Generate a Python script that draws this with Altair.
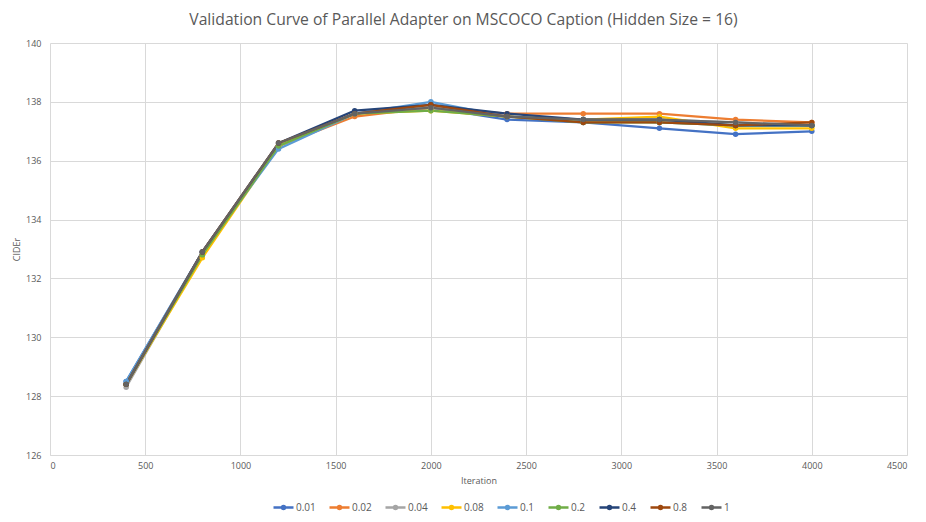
import altair as alt
import pandas as pd

iterations = [400, 800, 1200, 1600, 2000, 2400, 2800, 3200, 3600, 4000]
series_names = ["0.01", "0.02", "0.04", "0.08", "0.1", "0.2", "0.4", "0.8", "1"]
colors = ["#4472C4", "#ED7D31", "#A5A5A5", "#FFC000", "#5B9BD5", "#70AD47", "#264478", "#9E480E", "#636363"]

v_001 = [128.5, 132.9, 136.5, 137.6, 137.8, 137.4, 137.3, 137.1, 136.9, 137.0]
v_002 = [128.4, 132.8, 136.5, 137.5, 137.8, 137.6, 137.6, 137.6, 137.4, 137.3]
v_004 = [128.3, 132.8, 136.5, 137.6, 137.8, 137.5, 137.4, 137.4, 137.3, 137.2]
v_008 = [128.4, 132.7, 136.5, 137.6, 137.7, 137.5, 137.4, 137.5, 137.1, 137.1]
v_01 = [128.5, 132.9, 136.4, 137.6, 138.0, 137.5, 137.4, 137.3, 137.2, 137.2]
v_02 = [128.4, 132.8, 136.5, 137.6, 137.7, 137.5, 137.3, 137.3, 137.2, 137.2]
v_04 = [128.4, 132.9, 136.6, 137.7, 137.9, 137.6, 137.4, 137.4, 137.2, 137.2]
v_08 = [128.4, 132.9, 136.6, 137.6, 137.9, 137.5, 137.3, 137.3, 137.2, 137.3]
v_1 = [128.4, 132.9, 136.6, 137.6, 137.8, 137.5, 137.4, 137.4, 137.3, 137.2]

all_values = [v_001, v_002, v_004, v_008, v_01, v_02, v_04, v_08, v_1]

rows = []
for i, (name, vals) in enumerate(zip(series_names, all_values)):
    for it, v in zip(iterations, vals):
        rows.append({"Iteration": it, "CIDEr": v, "series": name, "order": i})
df = pd.DataFrame(rows)

legend_symbol = "M-1,0H1M0.15,0A0.15,0.15,0,1,1,-0.15,0A0.15,0.15,0,1,1,0.15,0Z"

color_enc = alt.Color(
    "series:N",
    scale=alt.Scale(domain=series_names, range=colors),
    legend=alt.Legend(
        title=None,
        orient="none",
        legendX=222,
        legendY=453,
        direction="horizontal",
        columns=9,
        symbolType=legend_symbol,
        symbolSize=400,
        symbolStrokeWidth=2.5,
        labelFontSize=10,
        labelColor="#595959",
        labelFont="Open Sans",
        columnPadding=8,
        labelOffset=1,
    ),
)

chart = (
    alt.Chart(df)
    .mark_line(strokeWidth=2.25, point=alt.OverlayMarkDef(size=30, filled=True))
    .encode(
        x=alt.X(
            "Iteration:Q",
            scale=alt.Scale(domain=[0, 4500], nice=False),
            axis=alt.Axis(values=list(range(0, 4501, 500)), title="Iteration", format="d"),
        ),
        y=alt.Y(
            "CIDEr:Q",
            scale=alt.Scale(domain=[126, 140], nice=False, zero=False),
            axis=alt.Axis(values=list(range(126, 141, 2)), title="CIDEr", format="d"),
        ),
        color=color_enc,
        detail="series:N",
        order=alt.Order("order:Q"),
    )
    .properties(
        width=857,
        height=412,
        title=alt.TitleParams(
            "Validation Curve of Parallel Adapter on MSCOCO Caption (Hidden Size = 16)",
            fontSize=15.7,
            font="Open Sans",
            fontWeight="normal",
            color="#595959",
            anchor="middle",
            dx=-15,
            offset=10,
        ),
        autosize=alt.AutoSizeParams(type="none"),
        padding={"left": 42, "top": 35, "right": 10, "bottom": 60},
    )
    .configure_view(stroke=None)
    .configure_axis(
        gridColor="#D9D9D9",
        gridWidth=1,
        ticks=False,
        labelColor="#595959",
        labelFontSize=9,
        labelFont="Open Sans",
        titleFont="Open Sans",
        titleFontSize=9,
        titleFontWeight="normal",
        titleColor="#595959",
    )
    .configure_axisX(domainColor="#D9D9D9", labelPadding=6, titlePadding=6)
    .configure_axisY(domain=False, labelPadding=9, titlePadding=4)
)

chart.save("out.html", embed_options={"renderer": "svg", "actions": False})
